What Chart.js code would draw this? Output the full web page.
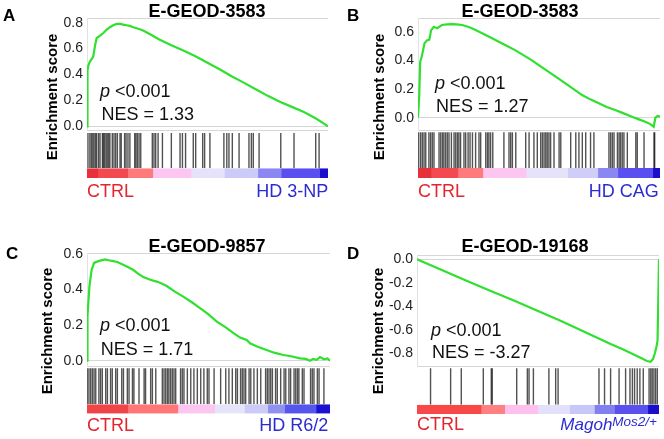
<!DOCTYPE html>
<html><head><meta charset="utf-8">
<script src="https://cdn.jsdelivr.net/npm/chart.js@4/dist/chart.umd.min.js"></script>
<style>
html,body{margin:0;padding:0;background:#fff;}
#wrap{position:relative;width:664px;height:439px;overflow:hidden;background:#fff;font-family:'Liberation Sans',Arial,sans-serif;}
canvas{position:absolute;}
.t{position:absolute;white-space:nowrap;}
</style></head><body><div id="wrap"></div>
<script>
// ---------------- DATA ----------------
const panelLetters = ['A','B','C','D'];
const panelTitles = ['E-GEOD-3583','E-GEOD-3583','E-GEOD-9857','E-GEOD-19168'];
const pValues = ['<0.001','<0.001','<0.001','<0.001'];
const nesValues = ['1.33','1.27','1.71','-3.27'];
const leftLabels = ['CTRL','CTRL','CTRL','CTRL'];
const rightLabels = ['HD 3-NP','HD CAG','HD R6/2','Magoh'];
const yTitle = 'Enrichment score';

// Panel A
const rankA = [0,0.1,0.3,0.6,1.2,2.0,2.6,3.3,4.0,5.4,6.8,8.1,9.5,10.9,12.3,13.7,15,16.4,17.8,19.2,21,23.3,26,30,35,40,45,50,55,60,65,70,75,80,85,90,95,98,100];
const esA   = [0,0.30,0.43,0.47,0.50,0.52,0.54,0.62,0.68,0.70,0.72,0.745,0.765,0.78,0.79,0.79,0.785,0.78,0.775,0.765,0.755,0.74,0.712,0.67,0.625,0.585,0.54,0.49,0.44,0.387,0.337,0.286,0.235,0.19,0.15,0.11,0.06,0.025,0];
const hitsA = [0.4,1.2,1.8,2.4,2.9,3.5,4.0,4.8,5.4,6.4,6.8,7.3,7.9,8.4,9.0,9.5,10.5,11.2,11.9,12.6,13.7,14.2,15.6,16.2,17.0,17.8,19.8,20.3,20.9,21.6,22.3,27.1,27.8,28.5,29.5,31.3,35.0,38.6,39.6,40.9,44.1,45.1,48.0,48.8,51.0,56.8,58.0,58.9,60.3,63.1,67.2,68.2,69.0,71.4,80.4,85.9,94.9,96.3];
const ticksA = [0,0.2,0.4,0.6,0.8];
const tickLabelsA = ['0.0','0.2','0.4','0.6','0.8'];
const barStopsA = [0,4.3,16.7,27.1,43,56.8,70.7,80.4,96.3,100];
const barColorsA = ['#e8303a','#f24a50','#ff7a7a','#fcc6f0','#e6e2fa','#cccaf8','#8a86f2','#5a4ef0','#1a10cc'];

// Panel B
const rankB = [0,0.5,0.9,1.6,2.7,3.7,4.7,5.4,6.5,7.9,9.9,12,14,16,18.2,20,22.3,26.5,30,33.4,36.8,40.3,43.7,47.1,50.5,54,57.5,60.9,64.3,67.8,71.2,74.7,78,81.5,85,88.4,91,93.9,96,97.4,98.1,99,100];
const esB   = [0,0.15,0.39,0.43,0.52,0.54,0.545,0.61,0.635,0.625,0.647,0.652,0.654,0.652,0.647,0.638,0.625,0.59,0.56,0.53,0.50,0.47,0.435,0.40,0.36,0.32,0.28,0.24,0.20,0.158,0.128,0.10,0.075,0.054,0.03,0.007,-0.01,-0.028,-0.045,-0.063,0.0,0.012,0.007];
const hitsB = [0.3,1.1,1.8,2.5,3.2,4.5,5.2,5.9,6.6,8.7,9.4,10.1,10.7,11.4,12.1,12.8,13.8,14.9,15.6,16.3,16.9,17.6,19.0,19.7,20.7,21.5,22.5,23.8,25.2,25.9,28.0,28.7,29.3,30.0,30.9,35.5,37.6,38.3,39.0,40.4,44.5,45.9,47.9,49.3,50.7,51.4,52.1,52.8,53.4,54.1,54.8,56.2,58.3,59.0,63.1,65.2,66.5,67.9,69.3,71.3,72.7,78.9,79.6,80.3,81.0,82.4,83.1,83.7,84.4,85.1,86.5,90.0,90.6,93.4,97.5,97.8];
const ticksB = [0,0.2,0.4,0.6];
const tickLabelsB = ['0.0','0.2','0.4','0.6'];
const barStopsB = [0,5.2,16.3,26.6,44.5,61.7,74.1,82.4,96.8,100];
const barColorsB = ['#e8303a','#f24a50','#ff7a7a','#fcc6f0','#e6e2fa','#d0cef8','#8a86f2','#5a4ef0','#1a10cc'];

// Panel C
const rankC = [0,0.1,0.3,1.0,1.9,2.9,4.7,7.4,9,10.8,12.5,14.9,17,19.1,21,23.2,26,28.7,30.5,32.8,36,39.6,43,46.5,50,53.4,56.8,60.3,63,65.7,67.1,70,73.9,77,80.8,84,87.7,90,91.8,93,94.5,95.9,97.5,99,100];
const esC   = [0,0.08,0.25,0.42,0.51,0.55,0.56,0.57,0.565,0.56,0.555,0.54,0.525,0.51,0.49,0.47,0.455,0.445,0.435,0.42,0.39,0.36,0.33,0.295,0.26,0.22,0.19,0.155,0.13,0.117,0.098,0.08,0.06,0.045,0.032,0.025,0.013,0.01,0.0,0.01,0.005,0.02,0.008,0.012,0];
const hitsC = [0.1,0.8,1.5,2.2,2.9,3.6,4.9,5.6,6.3,7.7,8.4,9.7,10.4,11.8,12.5,14.3,15.0,16.6,17.3,18.7,19.3,21.4,23.5,24.1,26.2,26.9,28.3,31.0,31.7,32.4,33.1,33.7,34.4,35.1,35.8,36.5,38.5,39.2,39.9,41.3,42.7,44.0,45.4,46.8,48.1,49.5,50.2,52.3,55.0,57.1,58.4,59.8,61.2,61.9,63.2,63.9,64.6,65.3,66.7,67.4,68.7,70.1,71.5,73.5,74.2,74.9,75.6,76.3,77.6,78.3,79.7,81.1,81.8,83.1,83.8,85.2,85.9,86.6,87.2,88.6,89.3,92.0,92.7,93.4,94.8,95.5,97.5];
const ticksC = [0,0.2,0.4,0.6];
const tickLabelsC = ['0.0','0.2','0.4','0.6'];
const barStopsC = [0,16.6,37.2,52.3,64.6,74.2,81.1,94.1,100];
const barColorsC = ['#f04448','#ff7676','#fcc6f0','#e6e4fa','#cccaf6','#9090f0','#5555ee','#1a10d0'];

// Panel D
const rankD = [0,10,20,30,40,50,60,70,80,85,90,93,95,96.5,97.5,98.3,99,99.4,99.7,100];
const esD   = [0,-0.088,-0.177,-0.265,-0.35,-0.44,-0.53,-0.625,-0.72,-0.765,-0.815,-0.845,-0.865,-0.872,-0.85,-0.80,-0.74,-0.69,-0.35,0];
const hitsD = [5.6,13.9,18.3,27.4,30.7,31.1,41.2,45.6,46.3,48.1,54.5,57.3,58.3,75.2,77.5,80.0,83.5,86.2,88.0,89.0,89.9,91.0,92.1,93.5,95.9,96.6,97.2,97.9,98.6,99.3];
const ticksD = [0,-0.2,-0.4,-0.6,-0.8];
const tickLabelsD = ['0.0','-0.2','-0.4','-0.6','-0.8'];
const barStopsD = [0,26.3,36,49.7,62.8,73.1,81.4,95.2,100];
const barColorsD = ['#f84848','#ff8080','#ffc0ee','#e2e0fa','#c8c8f8','#8080f0','#5a50ee','#1a0ecc'];

// ---------------- LAYOUT ----------------
const FONT = "'Liberation Sans', Arial, sans-serif";
const wrap = document.getElementById('wrap');
const panels = [
  {rank:rankA, es:esA, hits:hitsA, ticks:ticksA, labels:tickLabelsA, stops:barStopsA, colors:barColorsA,
   left:0, top:0, w:332, h:220, pad:{left:47,right:4,top:18,bottom:42}, we:112.7, wh:37.5, wc:9.8, ymin:-0.034, ymax:0.836},
  {rank:rankB, es:esB, hits:hitsB, ticks:ticksB, labels:tickLabelsB, stops:barStopsB, colors:barColorsB,
   left:332, top:0, w:332, h:220, pad:{left:46,right:4,top:18.3,bottom:42}, we:111.7, wh:38, wc:10, ymin:-0.086, ymax:0.694},
  {rank:rankC, es:esC, hits:hitsC, ticks:ticksC, labels:tickLabelsC, stops:barStopsC, colors:barColorsC,
   left:0, top:220, w:332, h:219, pad:{left:47,right:2,top:33.3,bottom:25.3}, we:112.7, wh:38.3, wc:9.4, ymin:-0.030, ymax:0.604},
  {rank:rankD, es:esD, hits:hitsD, ticks:ticksD, labels:tickLabelsD, stops:barStopsD, colors:barColorsD,
   left:332, top:220, w:332, h:219, pad:{left:45,right:5,top:35,bottom:24.7}, we:111, wh:38.7, wc:9.6, ymin:-0.908, ymax:0.037}
];
const AXW = 40, HMAX = 1.065, GRID = '#d6d6d6';

function makePanel(p) {
  const cv = document.createElement('canvas');
  cv.width = p.w; cv.height = p.h;
  cv.style.left = p.left + 'px'; cv.style.top = p.top + 'px';
  cv.style.width = p.w + 'px'; cv.style.height = p.h + 'px';
  wrap.appendChild(cv);
  const datasets = [];
  datasets.push({type:'line', data:p.rank.map((r,i)=>({x:r, y:p.es[i]})), yAxisID:'y',
    borderColor:'#2fe02f', borderWidth:2.2, pointRadius:0, fill:false, tension:0, order:0});
  datasets.push({type:'bar', data:p.hits.map(h=>({x:h, y:1})), yAxisID:'yh',
    backgroundColor:'rgba(0,0,0,0.68)', barThickness:1.4, inflateAmount:0, borderWidth:0, order:1});
  for (let i = 0; i < p.colors.length; i++) {
    datasets.push({type:'line', data:[{x:p.stops[i], y:1}, {x:Math.min(p.stops[i+1] + 0.4, 100), y:1}],
      yAxisID:'yc', fill:'origin', backgroundColor:p.colors[i], borderColor:'transparent',
      borderWidth:0, pointRadius:0, order:2});
  }
  const fixW = s => { s.width = AXW; };
  new Chart(cv.getContext('2d'), {
    type:'line',
    data:{datasets},
    options:{
      responsive:false, animation:false, devicePixelRatio:1, events:[],
      layout:{padding:p.pad},
      plugins:{legend:{display:false}, tooltip:{enabled:false}, title:{display:false}},
      scales:{
        x:{type:'linear', min:0, max:100, display:false, offset:false},
        yc:{type:'linear', min:0, max:1, stack:'s', stackWeight:p.wc,
            ticks:{display:false}, grid:{display:false}, border:{display:false}, afterFit:fixW},
        yh:{type:'linear', min:0, max:HMAX, stack:'s', stackWeight:p.wh,
            ticks:{display:false}, grid:{color:GRID, drawTicks:false}, border:{display:false},
            afterBuildTicks:a=>{a.ticks=[{value:HMAX}];}, afterFit:fixW},
        y:{type:'linear', min:p.ymin, max:p.ymax, stack:'s', stackWeight:p.we,
           ticks:{font:{family:FONT, size:14}, color:'#222', padding:4, autoSkip:false,
                  callback:(v,i)=> (i < p.labels.length ? p.labels[i] : '')},
           grid:{drawTicks:false, color:c => (c.tick && (c.tick.value === 0 || c.tick.value === p.ymax)) ? GRID : 'rgba(0,0,0,0)'},
           border:{display:true, color:'#e2e2e2'},
           afterBuildTicks:a=>{a.ticks = p.ticks.map(v=>({value:v})).concat([{value:p.ymax}]);},
           afterFit:fixW}
      }
    }
  });
}
panels.forEach(makePanel);

// ---------------- TEXT ----------------
function addText(html, x, base, o) {
  const d = document.createElement('div');
  d.className = 't';
  const size = o.size;
  d.style.fontSize = size + 'px';
  d.style.lineHeight = size + 'px';
  d.style.fontWeight = o.bold ? 'bold' : 'normal';
  d.style.fontStyle = o.italic ? 'italic' : 'normal';
  d.style.color = o.color || '#000';
  d.innerHTML = html;
  d.style.left = x + 'px';
  d.style.top = (base - 0.8465 * size) + 'px';
  if (o.align === 'right') d.style.transform = 'translateX(-100%)';
  if (o.align === 'center') d.style.transform = 'translateX(-50%)';
  wrap.appendChild(d);
  return d;
}
function addRot(text, cx, cy, size) {
  const d = document.createElement('div');
  d.className = 't';
  d.style.fontSize = size + 'px';
  d.style.lineHeight = size + 'px';
  d.style.fontWeight = 'bold';
  d.style.color = '#000';
  d.textContent = text;
  d.style.left = cx + 'px';
  d.style.top = cy + 'px';
  d.style.transform = 'translate(-50%,-50%) rotate(-90deg)';
  wrap.appendChild(d);
}
const RED = '#e3262e', BLUE = '#2b2bd2';
const txtPos = [
  {title:[207,17.3], letter:[3,21.7], yt:[51,97], p:[100,97.3], nes:[101.5,120], lft:[87,197.3], rgt:[328.3,197.3]},
  {title:[520,17.3], letter:[347,21.7], yt:[378,97], p:[435,89.3], nes:[436,112.7], lft:[418,197.3], rgt:[658.7,197.3]},
  {title:[207,252.3], letter:[6,259], yt:[46,331], p:[100,331.7], nes:[100.7,355], lft:[87,431.7], rgt:[328.3,431.7]},
  {title:[525,252.3], letter:[347,259], yt:[377,331], p:[431,336.7], nes:[432,358.3], lft:[417,430.7], rgt:[657,430.7]}
];
txtPos.forEach((t, i) => {
  addText(panelTitles[i], t.title[0], t.title[1], {size:18, bold:true, align:'center'});
  addText(panelLetters[i], t.letter[0], t.letter[1], {size:17, bold:true});
  addRot(yTitle, t.yt[0], t.yt[1], 15);
  addText('<i>p</i> ' + pValues[i].replace('<','&lt;'), t.p[0], t.p[1], {size:18, color:'#111'});
  addText('NES = ' + nesValues[i], t.nes[0], t.nes[1], {size:18, color:'#111'});
  addText(leftLabels[i], t.lft[0], t.lft[1], {size:18, color:RED});
  if (i < 3) {
    addText(rightLabels[i], t.rgt[0], t.rgt[1], {size:18, color:BLUE, align:'right'});
  } else {
    addText('<i>' + rightLabels[i] + '</i><i style="font-size:13.5px;position:relative;top:-4.7px">Mos2/+</i>',
      t.rgt[0], t.rgt[1], {size:17, color:BLUE, align:'right'});
  }
});
</script></body></html>
